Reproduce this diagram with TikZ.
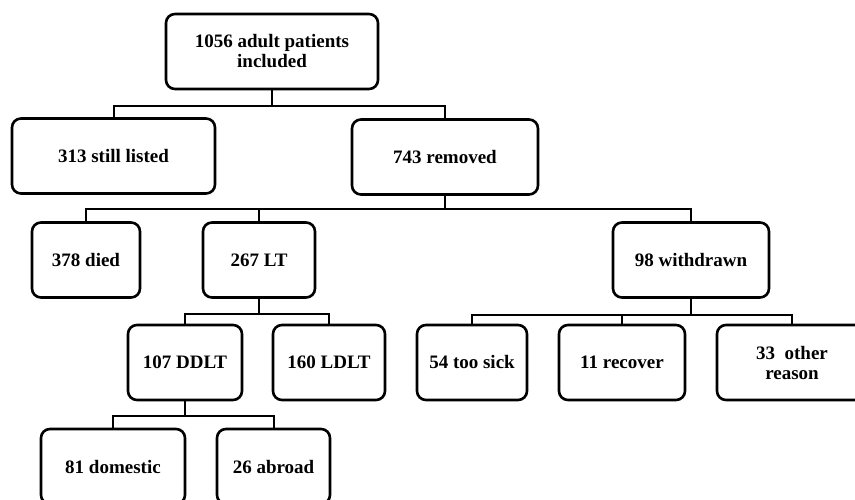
\documentclass[tikz,border=0pt]{standalone}
\usepackage{fontspec}
\setmainfont{Liberation Serif}
\tikzset{
  flowbox/.style={draw, line width=2.6pt, rounded corners=9pt, align=center,
    minimum height=75pt, inner sep=2pt, font=\fontsize{19}{20}\selectfont\bfseries},
  link/.style={line width=2pt},
}
\begin{document}
\begin{tikzpicture}[x=1pt,y=-1pt]
\useasboundingbox (0,0) rectangle (855,500);
\clip (0,0) rectangle (855,500);

% boxes
\node[flowbox, minimum width=212pt] (total) at (272,51.5) {1056 adult patients\\included};
\node[flowbox, minimum width=203pt] (still) at (113.5,156) {313 still listed};
\node[flowbox, minimum width=186pt] (removed) at (445,157) {743 removed};

\node[flowbox, minimum width=108pt] (died) at (86,260) {378 died};
\node[flowbox, minimum width=112pt] (lt) at (259,260) {267 LT};
\node[flowbox, minimum width=156pt] (withdrawn) at (691,260) {98 withdrawn};

\node[flowbox, minimum width=114pt] (ddlt) at (185,362.5) {107 DDLT};
\node[flowbox, minimum width=112pt] (ldlt) at (329,362.5) {160 LDLT};
\node[flowbox, minimum width=110pt] (sick) at (472,362.5) {54 too sick};
\node[flowbox, minimum width=126pt] (recover) at (622,362.5) {11 recover};
\node[flowbox, minimum width=150pt] (other) at (792,362.5) {33\ \ other\\reason};

\node[flowbox, minimum width=144pt] (domestic) at (113,466.5) {81 domestic};
\node[flowbox, minimum width=113pt] (abroad) at (273.5,466.5) {26 abroad};

% connectors
\draw[link] (total.south) -- ++(0,16) coordinate (j1);
\draw[link] (still.north) |- (j1) -| (removed.north);

\draw[link] (removed.south) -- ++(0,13) coordinate (j2);
\draw[link] (died.north) |- (j2) -| (withdrawn.north);
\draw[link] (lt.north) -- (lt.north |- j2);

\draw[link] (lt.south) -- ++(0,15) coordinate (j3);
\draw[link] (ddlt.north) |- (j3) -| (ldlt.north);

\draw[link] (withdrawn.south) -- ++(0,16) coordinate (j4);
\draw[link] (sick.north) |- (j4) -| (other.north);
\draw[link] (recover.north) -- (recover.north |- j4);

\draw[link] (ddlt.south) -- ++(0,15) coordinate (j5);
\draw[link] (domestic.north) |- (j5) -| (abroad.north);
\end{tikzpicture}
\end{document}
